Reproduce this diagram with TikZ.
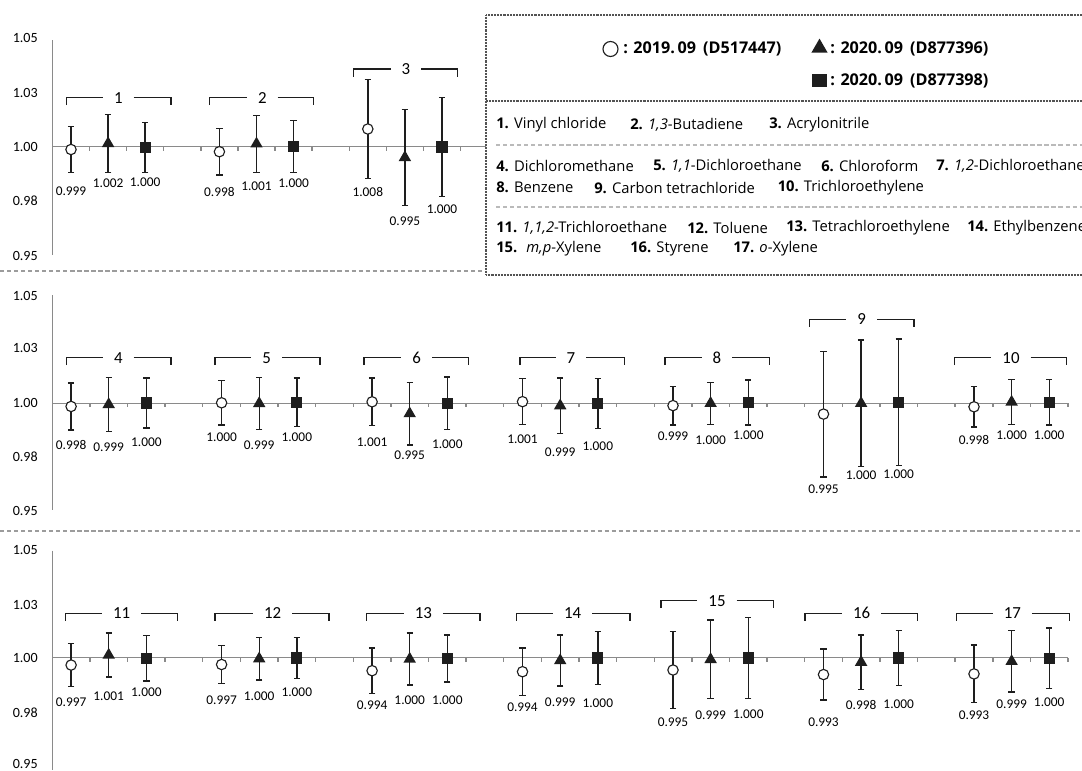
\documentclass[tikz,border=0pt]{standalone}
\usepackage{fontspec}
\setmainfont{Carlito}
\newfontfamily\legfont{Open Sans}
\usetikzlibrary{arrows.meta,shapes.geometric}
\usepackage{xcolor}
\definecolor{ax}{HTML}{8A8A8A}
\definecolor{sep}{HTML}{9C9C9C}
\definecolor{ink}{HTML}{1E1E1E}

\begin{document}
\begin{tikzpicture} [x = 0.025cm, y = -0.025cm,
	axline/.style = {draw = ax, line width = 1pt},
	ebar/.style = {draw = ink, line width = 1pt, {Bar[width=4.5pt]}-{Bar[width=4.5pt]}},
	circ/.style = {circle, draw = ink, fill = white, line width = 0.8pt,
		minimum size = 0.26cm, inner sep = 0pt},
	tri/.style = {regular polygon, regular polygon sides = 3, fill = ink,
		minimum size = 0.36cm, inner sep = 0pt},
	sq/.style = {rectangle, fill = ink, minimum size = 0.28cm, inner sep = 0pt},
	vallab/.style = {font = \fontsize{9.5}{11}\selectfont, inner sep = 0pt},
	axlab/.style = {font = \fontsize{10}{12}\selectfont, anchor = east, inner sep = 0pt},
	grplab/.style = {font = \fontsize{12}{14}\selectfont, inner xsep = 0.27cm, inner ysep = 0pt},
	brk/.style = {draw = ink, line width = 0.9pt},
	rowsep/.style = {draw = sep, line width = 0.8pt, dash pattern = on 3pt off 2pt},
	boxline/.style = {draw = gray!65!black, line width = 0.8pt, dash pattern = on 0.7pt off 0.35pt},
	legtext/.style = {font = \legfont\fontsize{10.5}{12}\selectfont, anchor = west, inner sep = 0pt},
	leghead/.style = {font = \legfont\bfseries\fontsize{11.5}{13}\selectfont, anchor = west, inner sep = 0pt}]

\useasboundingbox (0,0) rectangle (1082,770);
\clip (0,0) rectangle (1082,770);

% separators between the rows:
\draw [rowsep] (0,271) -- (482,271);
\draw [rowsep] (0,531) -- (1082,531);

% axes, row 1:
\draw [axline] (52.4,40) -- (52.4,255);
\draw [axline] (52.4,146.7) -- (486,146.7);
\foreach \k in {1,...,11}
	\draw [axline] (52.4+37.1*\k,146.7) -- ++(0,4);
\foreach \yy/\txt [count = \i] in {38.3/1.05, 93.3/1.03, 146.7/1.00, 201/0.98, 255.7/0.95}
	\node [axlab] (ya\i) at (38,\yy) {\txt};

% axes, rows 2 and 3:
\foreach \zz/\ya/\yb in {403.3/295/510, 657.7/550.7/770} {
	\draw [axline] (52.3,\ya) -- (52.3,\yb);
	\draw [axline] (52.3,\zz) -- (1068,\zz);
	\foreach \k in {1,...,27}
		\draw [axline] (52.3+37.62*\k,\zz) -- ++(0,4);
}
\foreach \yy/\txt [count = \i] in {295.7/1.05, 348.3/1.03, 403.3/1.00, 456.7/0.98, 511/0.95}
	\node [axlab] (yb\i) at (38,\yy) {\txt};
\foreach \yy/\txt [count = \i] in {550/1.05, 605/1.03, 657.7/1.00, 712.7/0.98, 764/0.95}
	\node [axlab] (yc\i) at (38,\yy) {\txt};

% group brackets:
\foreach \n/\lx/\rx/\cx/\y in {1/66.7/171/118.3/97.7, 2/209.3/313.3/262.3/97.7, 3/353.3/457.7/406/69,
	4/66.7/171/118.3/357.7, 5/215/320/266.7/357.7, 6/364/468.3/416.7/357.7, 7/520/624.3/571/357.7,
	8/665/769.3/717/357.7, 9/809.3/914/861.7/319.3, 10/954.3/1066.7/1011/357.7,
	11/65.7/177.3/121.7/613.3, 12/215/329/272.7/613.3, 13/366.7/480/423.3/613.3, 14/516.7/630/572.7/613.3,
	15/661/773.3/717/600.7, 16/805/917.7/861.7/613.3, 17/956.7/1069.3/1012.3/613.3} {
	\node [grplab] (grp\n) at (\cx,\y) {\n};
	\draw [brk] (\lx,\y+7.5) -- (\lx,\y) -- (grp\n.west);
	\draw [brk] (grp\n.east) -- (\rx,\y) -- (\rx,\y+7.5);
}

% data points (marker / x / bar top / bar bottom / label / value):
\foreach \m/\x/\ytop/\ybot/\ylab/\txt [count = \i] in {
	circ/71/125.7/173.3/191/0.999, tri/108.1/114/173/183.3/1.002, sq/145.2/121.7/173/182.7/1.000,
	circ/219.4/127.7/175.7/192/0.998, tri/256.5/114.7/173/186/1.001, sq/293.6/120/173/183/1.000,
	circ/367.8/78.7/179.3/192/1.008, tri/404.9/109/206/221/0.995, sq/442/96.7/197.3/209/1.000} {
	\draw [ebar] (\x,\ytop) -- (\x,\ybot);
	\node [\m] (pa\i) at (\x,{(\ytop+\ybot)/2}) {};
	\node [vallab] (va\i) at (\x,\ylab) {\txt};
}
\foreach \m/\x/\ytop/\ybot/\ylab/\txt [count = \i] in {
	circ/71.1/382.3/430.6/445/0.998, tri/108.7/376.6/432.3/447.6/0.999, sq/146.4/377.3/428.6/442.6/1.000,
	circ/221.6/380/425.6/437.6/1.000, tri/259.2/376.6/430.3/445.6/0.999, sq/296.8/377.3/427/437.6/1.000,
	circ/372.1/377.3/426.3/442.3/1.001, tri/409.7/381.6/445.6/455.6/0.995, sq/447.3/376.3/430/444/1.000,
	circ/522.5/378/425.3/439.6/1.001, tri/560.2/377.3/434/452.3/0.999, sq/597.8/378/429/446.3/1.000,
	circ/673/385.6/425.6/436.3/0.999, tri/710.6/381.6/425/440.6/1.000, sq/748.3/379.3/425.6/435.6/1.000,
	circ/823.5/350.6/477.6/489/0.995, tri/861.1/339.3/467.3/475.6/1.000, sq/898.7/338.3/466/474.3/1.000,
	circ/974/386/427.6/440/0.998, tri/1011.6/379/425/435.6/1.000, sq/1049.2/379/425.6/435.6/1.000} {
	\draw [ebar] (\x,\ytop) -- (\x,\ybot);
	\node [\m] (pb\i) at (\x,{(\ytop+\ybot)/2}) {};
	\node [vallab] (vb\i) at (\x,\ylab) {\txt};
}
\foreach \m/\x/\ytop/\ybot/\ylab/\txt [count = \i] in {
	circ/71.1/642.7/687.4/702.4/0.997, tri/108.7/632.4/677.7/696.7/1.001, sq/146.4/635/681.7/692.4/1.000,
	circ/221.6/645/684/700/0.997, tri/259.2/636.7/680.7/696.7/1.000, sq/296.8/636.7/679.4/692.4/1.000,
	circ/372.1/647.4/694/705/0.994, tri/409.7/632.4/685.7/700/1.000, sq/447.3/634.4/682.7/700/1.000,
	circ/522.5/647.4/696/707.4/0.994, tri/560.2/634.4/686.7/702.4/0.999, sq/597.8/631/685/703.4/1.000,
	circ/673/631/709/722.4/0.995, tri/710.6/619.4/699.4/715.7/0.999, sq/748.3/616.7/699.4/714.4/1.000,
	circ/823.5/648.4/700.7/722.4/0.993, tri/861.1/634.4/690/705/0.998, sq/898.7/630/686/704.4/1.000,
	circ/974/644.4/703.4/715/0.993, tri/1011.6/630/692.7/704/0.999, sq/1049.2/627.4/689/702.4/1.000} {
	\draw [ebar] (\x,\ytop) -- (\x,\ybot);
	\node [\m] (pc\i) at (\x,{(\ytop+\ybot)/2}) {};
	\node [vallab] (vc\i) at (\x,\ylab) {\txt};
}

% legend box:
\fill [white] (486,15) rectangle (1100,275);
\draw [boxline] (1100,15) -- (486,15) -- (486,275) -- (1100,275);
\draw [boxline] (486,101) -- (1100,101);
\draw [rowsep, draw = sep!70] (496,145) -- (1100,145);
\draw [rowsep, draw = sep!70] (496,207) -- (1100,207);

\node [circ, minimum size = 0.375cm] (lk1) at (610.5,49) {};
\node [leghead] (lh1) at (623,49) {: 2019.\,09 \,(D517447)};
\node [tri, minimum size = 0.47cm] (lk2) at (819.5,48) {};
\node [leghead] (lh2) at (830,49) {: 2020.\,09 \,(D877396)};
\node [sq, minimum width = 0.39cm, minimum height = 0.33cm] (lk3) at (819.5,80.5) {};
\node [leghead] (lh3) at (830,80.5) {: 2020.\,09 \,(D877398)};

\node [legtext] (c1) at (496,125) {\textbf{1.} Vinyl chloride};
\node [legtext] (c2) at (630,125) {\textbf{2.} \textit{1,3}-Butadiene};
\node [legtext] (c3) at (769,125) {\textbf{3.} Acrylonitrile};
\node [legtext] (c4) at (496,166) {\textbf{4.} Dichloromethane};
\node [legtext] (c5) at (653,166) {\textbf{5.} \textit{1,1}-Dichloroethane};
\node [legtext] (c6) at (821,166) {\textbf{6.} Chloroform};
\node [legtext] (c7) at (936,166) {\textbf{7.} \textit{1,2}-Dichloroethane};
\node [legtext] (c8) at (496,187.7) {\textbf{8.} Benzene};
\node [legtext] (c9) at (594,187.7) {\textbf{9.} Carbon tetrachloride};
\node [legtext] (c10) at (777.5,187.7) {\textbf{10.} Trichloroethylene};
\node [legtext] (c11) at (496,228) {\textbf{11.} \textit{1,1,2}-Trichloroethane};
\node [legtext] (c12) at (687,228) {\textbf{12.} Toluene};
\node [legtext] (c13) at (786,228) {\textbf{13.} Tetrachloroethylene};
\node [legtext] (c14) at (967,228) {\textbf{14.} Ethylbenzene};
\node [legtext] (c15) at (496,249) {\textbf{15.} \ \textit{m,p}-Xylene};
\node [legtext] (c16) at (630,249) {\textbf{16.} Styrene};
\node [legtext] (c17) at (733,249) {\textbf{17.} \textit{o}-Xylene};
\end{tikzpicture}
\end{document}
